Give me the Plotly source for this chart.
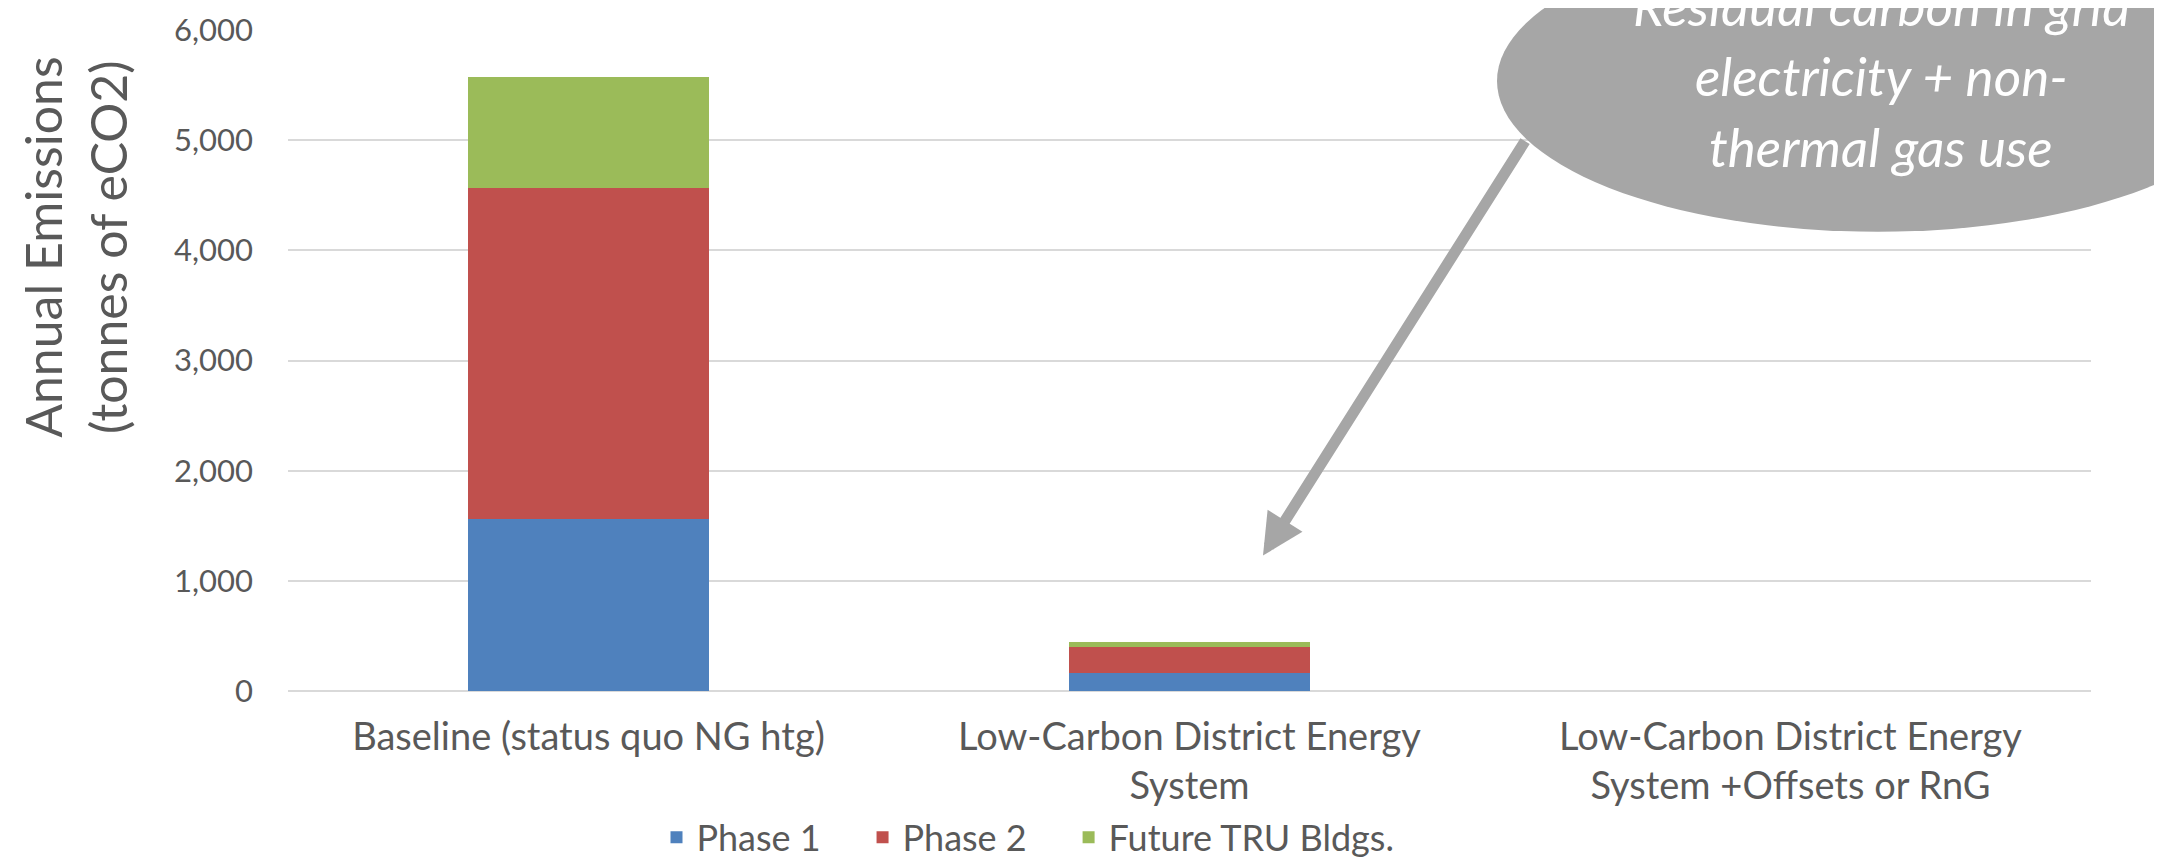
import plotly.graph_objects as go

# ---- data ----
categories = [
    "Baseline (status quo NG htg)",
    "Low-Carbon District Energy<br>System",
    "Low-Carbon District Energy<br>System +Offsets or RnG",
]
phase1 = [1565, 159, 0]
phase2 = [3000, 242, 0]
future_tru = [1010, 48, 0]
series_names = ["Phase 1", "Phase 2", "Future TRU Bldgs."]
y_ticks = [0, 1000, 2000, 3000, 4000, 5000, 6000]
callout_lines = ["Residual carbon in grid", "electricity + non-", "thermal gas use"]

# ---- layout geometry (pixels) ----
W, H = 2162, 858
L, R, T, B = 280, 2083, 22, 683.5
PW, PH = R - L, B - T


def px(x):
    return (x - L) / PW


def py(y):
    return (B - y) / PH


TXT = "#595959"
FONT = "Lato"
colors = ["#4F81BD", "#C0504D", "#9BBB59"]
NB = "\u00a0"
pads = [NB * 4, NB * 4, ""]

fig = go.Figure()
for name, pad, vals, c in zip(series_names, pads, [phase1, phase2, future_tru], colors):
    fig.add_trace(go.Bar(x=categories, y=vals, name=name + pad,
                         marker=dict(color=c, line=dict(width=0))))

fig.update_layout(
    width=W, height=H,
    margin=dict(l=L, r=W - R, t=T, b=H - B, autoexpand=False),
    barmode="stack", bargap=0.6,
    plot_bgcolor="white", paper_bgcolor="white",
    font=dict(family=FONT, color=TXT),
    showlegend=True,
    legend=dict(orientation="h", x=px(1020), xanchor="center", y=py(830), yanchor="middle",
                font=dict(size=36, color=TXT), traceorder="normal"),
    xaxis=dict(showgrid=False, showline=False, zeroline=False, ticks="",
               tickfont=dict(size=38, color=TXT), ticklabelstandoff=20),
    yaxis=dict(range=[0, 6000], tickvals=y_ticks, tickformat=",d",
               showgrid=True, gridcolor="#D9D9D9", gridwidth=2,
               zeroline=True, zerolinecolor="#D9D9D9", zerolinewidth=2,
               showline=False, ticks="", tickfont=dict(size=31, color=TXT),
               ticklabelstandoff=34),
)

# y-axis title
fig.add_annotation(text="Annual Emissions<br>(tonnes of eCO2)", xref="paper", yref="paper",
                   x=px(68), y=py(240), xanchor="center", yanchor="middle", textangle=-90,
                   showarrow=False, font=dict(size=50, color=TXT, family=FONT))

# callout ellipse
fig.add_shape(type="circle", xref="paper", yref="paper",
              x0=px(1489), x1=px(2251), y0=py(-78), y1=py(224),
              fillcolor="#A6A6A6", line=dict(width=0), layer="above")

# arrow
fig.add_annotation(x=px(1255), y=py(548), xref="paper", yref="paper", text="",
                   showarrow=True, ax=1518 - 1255, ay=132 - 548,
                   arrowhead=2, arrowwidth=11, arrowsize=0.75, arrowcolor="#A6A6A6",
                   standoff=0, startstandoff=0)

for line, yc in zip(callout_lines, [-3, 68, 139]):
    fig.add_annotation(text="<i>" + line + "</i>", xref="paper", yref="paper",
                       x=px(1873), y=py(yc), xanchor="center", yanchor="middle",
                       showarrow=False, font=dict(size=53, color="white", family=FONT))

fig.write_html("out.html")
